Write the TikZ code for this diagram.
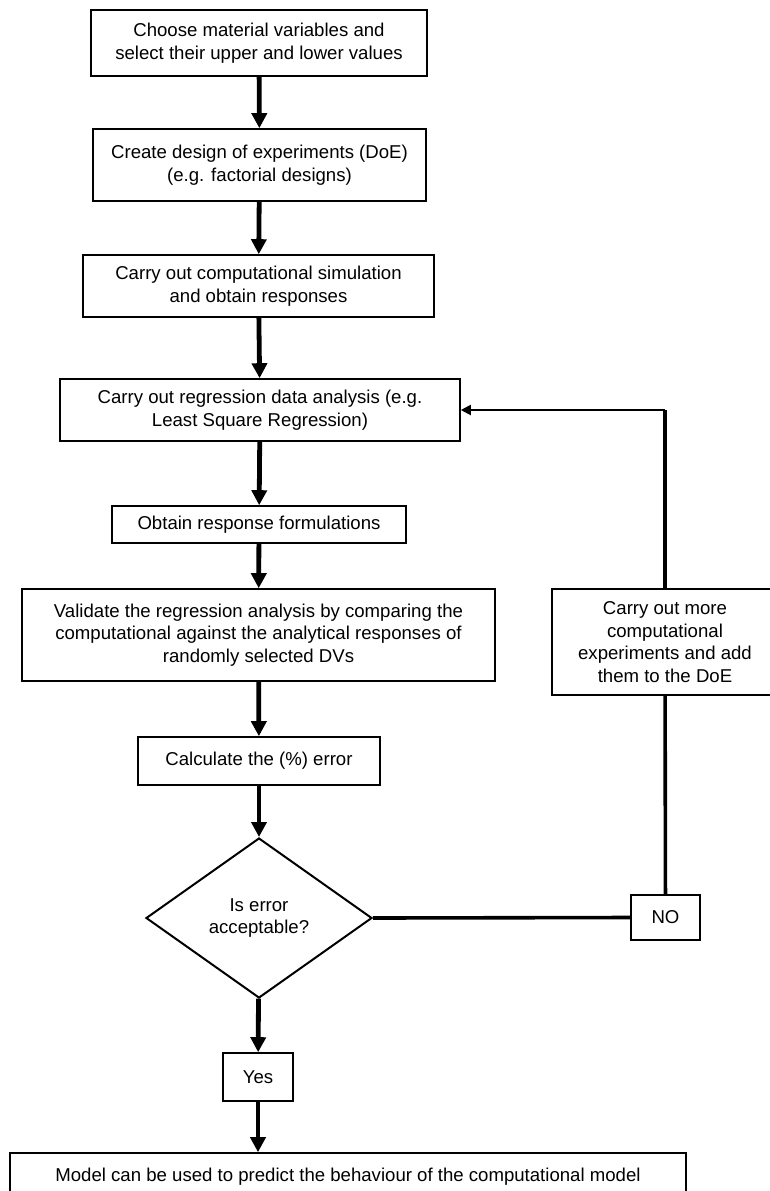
\documentclass[tikz,border=0pt]{standalone}
\usepackage{fontspec}
\setmainfont{Liberation Sans}
\usetikzlibrary{arrows.meta,shapes.geometric}

\tikzset{
  stagebox/.style={draw, line width=0.8pt, align=center, inner sep=0pt,
    font=\fontsize{9.3}{11.2}\selectfont},
  flowarrow/.style={line width=2.4pt, -{Triangle[length=7.5pt,width=7.5pt]}},
  loopline/.style={line width=1.8pt},
  backarrow/.style={line width=1pt, -{Triangle[length=5pt,width=5pt]}},
}

\begin{document}
\begin{tikzpicture}[x=0.5pt,y=-0.5pt]
\useasboundingbox (0,0) rectangle (770,1191);

\node[stagebox, minimum width=168pt, minimum height=33pt] (choose) at (259,43)
  {Choose material variables and\\select their upper and lower values};
\node[stagebox, minimum width=166.5pt, minimum height=36pt] (doe) at (259.5,165)
  {Create design of experiments (DoE)\\(e.g. factorial designs)};
\node[stagebox, minimum width=175.5pt, minimum height=31pt] (sim) at (258.5,286)
  {Carry out computational simulation\\and obtain responses};
\node[stagebox, minimum width=200pt, minimum height=31pt] (regr) at (260,410)
  {Carry out regression data analysis (e.g.\\Least Square Regression)};
\node[stagebox, minimum width=147pt, minimum height=18.5pt] (formul) at (259,524.5)
  {Obtain response formulations};
\node[stagebox, minimum width=236.5pt, minimum height=46pt] (valid) at (258.5,635)
  {Validate the regression analysis by comparing the\\computational against the analytical responses of\\randomly selected DVs};
\node[stagebox, minimum width=121pt, minimum height=24pt] (calc) at (259,761)
  {Calculate the (\%) error};

\node[stagebox, shape=diamond, line width=1pt, minimum width=113pt, minimum height=80pt] (decide) at (259,918)
  {Is error\\acceptable?};
\node[stagebox, minimum width=34.5pt, minimum height=22.5pt] (no) at (665.5,917.5) {NO};
\node[stagebox, minimum width=35pt, minimum height=24pt] (yes) at (258,1077) {Yes};

\node[stagebox, minimum width=113pt, minimum height=53pt] (more) at (665,642)
  {Carry out more\\computational\\experiments and add\\them to the DoE};

\node[stagebox, minimum width=338pt, minimum height=24pt] (final) at (348,1177)
  {Model can be used to predict the behaviour of the computational model};

% main column
\draw[flowarrow] (choose) -- (doe);
\draw[flowarrow] (doe) -- (sim);
\draw[flowarrow] (sim) -- (regr);
\draw[flowarrow] (regr) -- (formul);
\draw[flowarrow] (formul) -- (valid);
\draw[flowarrow] (valid) -- (calc);
\draw[flowarrow] (calc) -- (decide);
\draw[flowarrow] (decide) -- (yes);
\draw[flowarrow] (yes.south) -- (yes.south |- final.north);

% feedback loop
\coordinate (bend) at (more.north |- regr.east);
\draw[loopline] (decide.east) -- (no.west);
\draw[loopline] (no) -- (more);
\draw[loopline] (more.north) -- (bend);
\draw[backarrow] (bend) -- (regr.east);
\end{tikzpicture}
\end{document}
